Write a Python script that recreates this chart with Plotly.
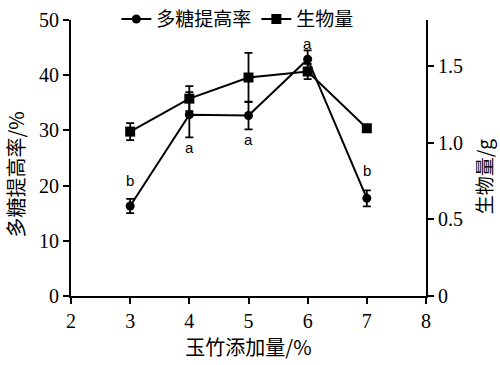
import plotly.graph_objects as go

# Data
x_vals = [3, 4, 5, 6, 7]
poly_rate = [16.3, 32.85, 32.7, 42.9, 17.7]        # 多糖提高率 /%
poly_err = [1.3, 4.1, 2.5, 1.6, 1.45]
biomass = [1.072, 1.287, 1.425, 1.464, 1.094]      # 生物量 /g
biomass_err = [0.056, 0.082, 0.16, 0.05, 0.02]
sig_labels = ["b", "a", "a", "a", "b"]
sig_above = [True, False, False, True, True]
sig_shift = [8, 0, 0, -4, 9]

y1_ticks = [0, 10, 20, 30, 40, 50]
y2_ticks = [0, 0.5, 1.0, 1.5]
y2_ticktext = ["0", "0.5", "1.0", "1.5"]
x_ticks = [2, 3, 4, 5, 6, 7, 8]

serif = "Liberation Serif, Times New Roman, serif"
cjk = "Noto Sans CJK SC"

fig = go.Figure()
fig.add_trace(go.Scatter(
    x=x_vals, y=poly_rate, name="多糖提高率", mode="lines+markers",
    line=dict(color="black", width=2),
    marker=dict(symbol="circle", size=9, color="black"),
    error_y=dict(type="data", array=poly_err, color="black", thickness=1.8, width=4),
))
fig.add_trace(go.Scatter(
    x=x_vals, y=biomass, name="生物量", mode="lines+markers", yaxis="y2",
    line=dict(color="black", width=2),
    marker=dict(symbol="square", size=10, color="black"),
    error_y=dict(type="data", array=biomass_err, color="black", thickness=1.8, width=4),
))

for xv, yv, ev, lab, up, sh in zip(x_vals, poly_rate, poly_err, sig_labels, sig_above, sig_shift):
    fig.add_annotation(
        x=xv, y=yv + ev if up else yv - ev, xref="x", yref="y",
        text=lab, showarrow=False,
        yanchor="bottom" if up else "top",
        yshift=sh if up else -sh,
        font=dict(family="Liberation Sans, Arial, sans-serif", size=15, color="black"),
    )

# axis titles
fig.add_annotation(x=0, xref="paper", xshift=-55, xanchor="center", y=0.44, yref="paper",
                   yanchor="middle", text="多糖提高率/%", textangle=-90, showarrow=False,
                   font=dict(family=cjk, size=20, color="black"))
fig.add_annotation(x=1, xref="paper", xshift=57, xanchor="center", y=0.43, yref="paper",
                   yanchor="middle", text="生物量/g", textangle=-90, showarrow=False,
                   font=dict(family=cjk, size=19, color="black"))

axis_common = dict(showgrid=False, zeroline=False, showline=True, linecolor="black",
                   linewidth=2, ticks="outside", ticklen=6, tickwidth=2, tickcolor="black",
                   tickfont=dict(family=serif, size=20, color="black"))

fig.update_layout(
    width=500, height=365,
    margin=dict(l=71, r=74, t=20, b=69, autoexpand=False),
    paper_bgcolor="white", plot_bgcolor="white",
    showlegend=True,
    legend=dict(orientation="h", x=0.47, xanchor="center", y=1.072, yanchor="top",
                font=dict(family=cjk, size=19, color="black"),
                itemwidth=30, tracegroupgap=0, bgcolor="rgba(0,0,0,0)"),
    xaxis=dict(range=[2, 8], tickvals=x_ticks,
               title=dict(text="玉竹添加量/%", font=dict(family=cjk, size=20, color="black"), standoff=10),
               **axis_common),
    yaxis=dict(range=[0, 50], tickvals=y1_ticks, **axis_common),
    yaxis2=dict(range=[0, 1.8], tickvals=y2_ticks, ticktext=y2_ticktext,
                overlaying="y", side="right", **axis_common),
)

fig.write_html("out.html", config={"displayModeBar": False},
               post_script="document.body.style.margin='0';")
